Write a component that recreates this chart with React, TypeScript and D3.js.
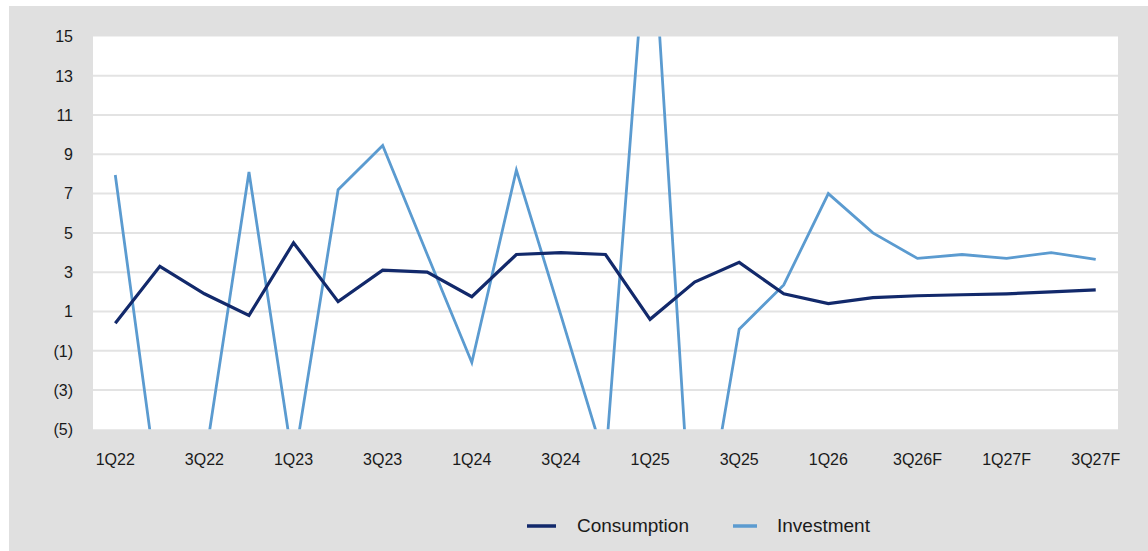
import React, { useEffect, useRef } from "react";
import * as d3 from "d3";

const categories = [
  "1Q22", "2Q22", "3Q22", "4Q22",
  "1Q23", "2Q23", "3Q23", "4Q23",
  "1Q24", "2Q24", "3Q24", "4Q24",
  "1Q25", "2Q25", "3Q25", "4Q25",
  "1Q26", "2Q26", "3Q26F", "4Q26F",
  "1Q27F", "2Q27F", "3Q27F",
];

const consumption = [
  0.4, 3.3, 1.9, 0.8, 4.5, 1.5, 3.1, 3.0, 1.75, 3.9, 4.0, 3.9,
  0.6, 2.5, 3.5, 1.9, 1.4, 1.7, 1.8, 1.85, 1.9, 2.0, 2.1,
];

const investment = [
  7.95, -8.8, -6.8, 8.1, -6.9, 7.2, 9.45, 3.9, -1.6, 8.2, 0.8, -6.7,
  22.8, -13.2, 0.1, 2.35, 7.0, 5.0, 3.7, 3.9, 3.7, 4.0, 3.65,
];

const yTicks = [15, 13, 11, 9, 7, 5, 3, 1, -1, -3, -5];

const series = [
  { name: "Consumption", values: consumption, color: "#12296b", width: 3.2 },
  { name: "Investment", values: investment, color: "#5b9bd0", width: 2.8 },
];

const W = 1148;
const H = 551;

const fmt = (v: number) => (v < 0 ? "(" + Math.abs(v) + ")" : String(v));

export default function App() {
  const ref = useRef<SVGSVGElement>(null);

  useEffect(() => {
    const svg = d3.select(ref.current);
    svg.selectAll("*").remove();

    const plot = { left: 93, right: 1118, top: 36.5, bottom: 429.3 };

    const x = d3.scaleBand<string>()
      .domain(categories)
      .range([plot.left, plot.right]);
    const y = d3.scaleLinear().domain([-5, 15]).range([plot.bottom, plot.top]);
    const cx = (c: string) => (x(c) as number) + x.bandwidth() / 2;

    svg.append("rect")
      .attr("x", 9).attr("y", 6)
      .attr("width", W - 9).attr("height", H - 6)
      .attr("fill", "#e0e0e0");

    svg.append("rect")
      .attr("x", plot.left).attr("y", plot.top)
      .attr("width", plot.right - plot.left)
      .attr("height", plot.bottom - plot.top)
      .attr("fill", "#ffffff");

    svg.append("defs").append("clipPath").attr("id", "plotclip")
      .append("rect")
      .attr("x", plot.left).attr("y", plot.top)
      .attr("width", plot.right - plot.left)
      .attr("height", plot.bottom - plot.top);

    // gridlines
    svg.append("g")
      .selectAll("line")
      .data(yTicks.filter(t => t !== 15 && t !== -5))
      .enter()
      .append("line")
      .attr("x1", plot.left).attr("x2", plot.right)
      .attr("y1", d => y(d)).attr("y2", d => y(d))
      .attr("stroke", "#e3e3e3")
      .attr("stroke-width", 2);

    // y labels
    svg.append("g")
      .selectAll("text")
      .data(yTicks)
      .enter()
      .append("text")
      .attr("x", 73)
      .attr("y", d => y(d))
      .attr("dy", "0.36em")
      .attr("text-anchor", "end")
      .attr("font-family", "Liberation Sans, Arial, sans-serif")
      .attr("font-size", 16)
      .attr("fill", "#1a1a1a")
      .text(d => fmt(d));

    // x labels
    svg.append("g")
      .selectAll("text")
      .data(categories.filter((_, i) => i % 2 === 0))
      .enter()
      .append("text")
      .attr("x", d => cx(d))
      .attr("y", 459)
      .attr("dy", "0.36em")
      .attr("text-anchor", "middle")
      .attr("font-family", "Liberation Sans, Arial, sans-serif")
      .attr("font-size", 16)
      .attr("fill", "#1a1a1a")
      .text(d => d);

    const line = d3.line<number>()
      .x((_, i) => cx(categories[i]))
      .y(d => y(d));

    const lines = svg.append("g").attr("clip-path", "url(#plotclip)");
    [...series].reverse().forEach(s => {
      lines.append("path")
        .datum(s.values)
        .attr("d", line)
        .attr("fill", "none")
        .attr("stroke", s.color)
        .attr("stroke-width", s.width)
        .attr("stroke-linejoin", "miter");
    });

    // legend
    const legend = [
      { s: series[0], x0: 527, x1: 556, tx: 577 },
      { s: series[1], x0: 733, x1: 757, tx: 777 },
    ];
    const lg = svg.append("g");
    legend.forEach(l => {
      lg.append("line")
        .attr("x1", l.x0).attr("x2", l.x1)
        .attr("y1", 526).attr("y2", 526)
        .attr("stroke", l.s.color)
        .attr("stroke-width", 3.5);
      lg.append("text")
        .attr("x", l.tx)
        .attr("y", 525)
        .attr("dy", "0.36em")
        .attr("font-family", "Liberation Sans, Arial, sans-serif")
        .attr("font-size", 19)
        .attr("fill", "#1a1a1a")
        .text(l.s.name);
    });
  }, []);

  return (
    <div style={{ position: "absolute", left: 0, top: 0 }}>
      <svg ref={ref} width={W} height={H}></svg>
    </div>
  );
}
